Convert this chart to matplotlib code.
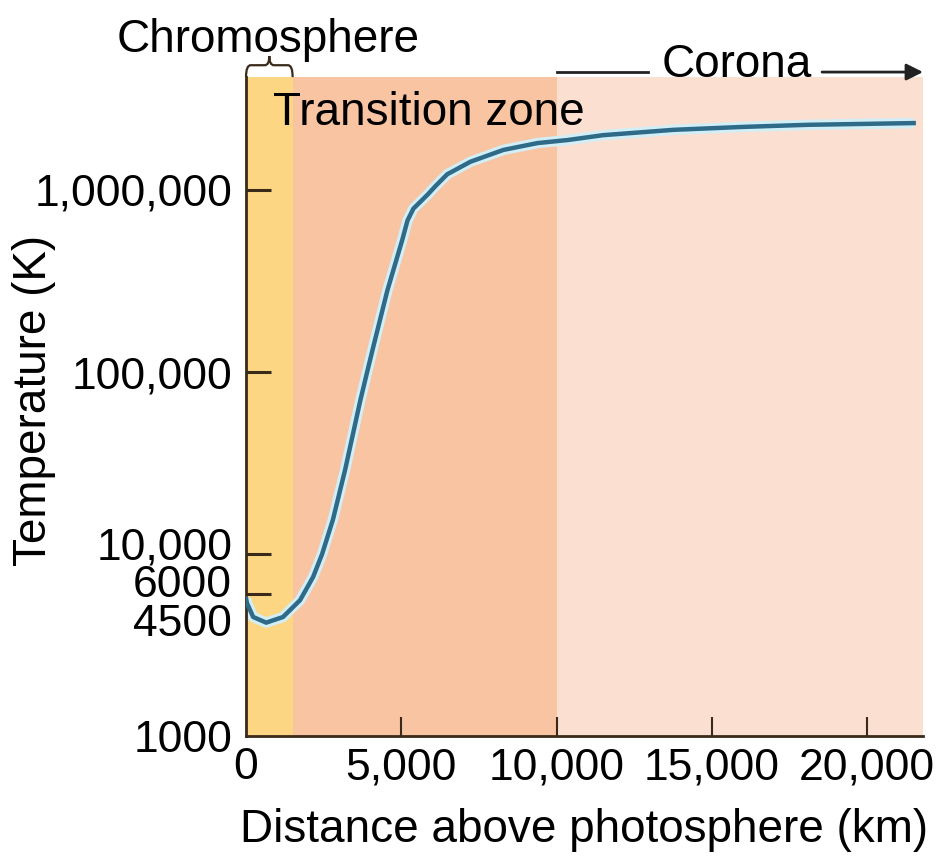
import numpy as np
import matplotlib
matplotlib.use("Agg")
import matplotlib.pyplot as plt
from matplotlib.path import Path
from matplotlib.patches import PathPatch
import matplotlib.transforms as mtransforms

plt.rcParams['font.family'] = ['Liberation Sans', 'DejaVu Sans']

# =========================
# Data
# =========================
dist_km = [0, 30, 230, 650, 1190, 1740, 2160, 2450, 2800, 3190, 3680, 3900,
           4100, 4550, 5030, 5200, 5390, 5840, 6100, 6480, 7230, 8290, 9390,
           10350, 11500, 13770, 16000, 18100, 21500]
temp_k = [5700, 5380, 4510, 4200, 4510, 5580, 7480, 10000, 15500, 29000,
          69800, 100000, 138000, 280000, 531000, 680000, 790000, 940000,
          1.05e6, 1.22e6, 1.43e6, 1.66e6, 1.81e6, 1.88e6, 2.0e6, 2.14e6,
          2.22e6, 2.28e6, 2.33e6]

zone_edges = [0, 1500, 10000, 21800]
zone_colors = ['#FCD682', '#F8C4A2', '#FBDFD1']

y_ticks = [1000, 6000, 10000, 100000, 1000000]
y_labels = ['1000', '', '', '100,000', '1,000,000']
# libellés du bas placés à la main (serrés)
low_vals = [10000, 6000, 4500]
low_labels = ['10,000', '6000', '4500']
low_shift = [4.3, 6.5, -5]   # décalage vertical en points
x_ticks = [0, 5000, 10000, 15000, 20000]
x_labels = ['0', '5,000', '10,000', '15,000', '20,000']

FS = 32
FS_BIG = 33
dark = '#3a2a1a'

fig = plt.figure(figsize=(9.38, 8.66), dpi=100)
ax = fig.add_axes([0.2623, 0.150, 0.7217, 0.761])

# bandes de fond
for i in range(len(zone_colors)):
    ax.axvspan(zone_edges[i], zone_edges[i + 1], color=zone_colors[i], lw=0, zorder=0)

# courbe de température
ax.plot(dist_km, temp_k, color='#D2EEF7', lw=7.5, solid_capstyle='butt',
        solid_joinstyle='round', zorder=2)
ax.plot(dist_km, temp_k, color='#2F6B88', lw=3.2, solid_joinstyle='round', zorder=3)

ax.set_yscale('log')
ax.set_xlim(0, 21800)
ax.set_ylim(1000, 4.17e6)

ax.set_yticks(y_ticks)
ax.set_yticklabels(y_labels)
ax.yaxis.set_minor_locator(matplotlib.ticker.NullLocator())
ax.set_xticks(x_ticks)
ax.set_xticklabels(x_labels)

ax.tick_params(axis='y', direction='in', length=18, width=2.2, color=dark,
               labelsize=FS, pad=10)
ax.tick_params(axis='x', direction='in', length=14, width=1.5, color=dark,
               labelsize=FS, pad=8)
ax.yaxis.get_major_ticks()[0].tick1line.set_visible(False)
ax.xaxis.get_major_ticks()[0].tick1line.set_visible(False)

ytrans = mtransforms.blended_transform_factory(ax.transAxes, ax.transData)
for v, lab, dy in zip(low_vals, low_labels, low_shift):
    tr = ytrans + mtransforms.ScaledTranslation(-10 / 72, dy / 72, fig.dpi_scale_trans)
    ax.text(0, v, lab, transform=tr, fontsize=FS, ha='right', va='center',
            clip_on=False)

for s in ['top', 'right']:
    ax.spines[s].set_visible(False)
for s in ['left', 'bottom']:
    ax.spines[s].set_color(dark)
    ax.spines[s].set_linewidth(2)

ax.set_xlabel("Distance above photosphere (km)", fontsize=FS_BIG, labelpad=14)
ax.set_ylabel("Temperature (K)", fontsize=FS_BIG)
ax.yaxis.set_label_coords(-0.28, 0.51)

# =========================
# Annotations
# =========================
trans = mtransforms.blended_transform_factory(ax.transData, ax.transAxes)

ax.text(710, 1.038, "Chromosphere", transform=trans, fontsize=FS_BIG,
        ha='center', va='baseline', clip_on=False)
ax.text(870, 0.927, "Transition zone", transform=trans, fontsize=FS_BIG,
        ha='left', va='baseline', zorder=4)

# accolade au-dessus de la chromosphère
x0, x1 = 0, 1500
xm = (x0 + x1) / 2
yb, ym, yt = 1.0, 1.018, 1.032
verts = [(x0, yb), (x0, ym), (x0 + 150, ym), (xm - 150, ym), (xm, ym), (xm, yt),
         (xm, ym), (xm + 150, ym), (x1 - 150, ym), (x1, ym), (x1, yb)]
codes = [Path.MOVETO, Path.CURVE3, Path.CURVE3, Path.LINETO, Path.CURVE3, Path.CURVE3,
         Path.CURVE3, Path.CURVE3, Path.LINETO, Path.CURVE3, Path.CURVE3]
ax.add_patch(PathPatch(Path(verts, codes), transform=trans, fill=False,
                       lw=1.6, color=dark, clip_on=False))

# Corona
ax.text(15800, 1.0, "Corona", transform=trans, fontsize=FS_BIG,
        ha='center', va='baseline', clip_on=False)
ax.plot([10000, 12950], [1.0076, 1.0076], transform=trans, color='#222222',
        lw=2, clip_on=False)
ax.annotate("", xy=(21800, 1.0076), xytext=(18550, 1.0076),
            xycoords=trans, textcoords=trans,
            arrowprops=dict(arrowstyle='-|>', color='#222222', lw=2,
                            mutation_scale=25, shrinkA=0, shrinkB=0))

fig.savefig("out.png", dpi=100)
